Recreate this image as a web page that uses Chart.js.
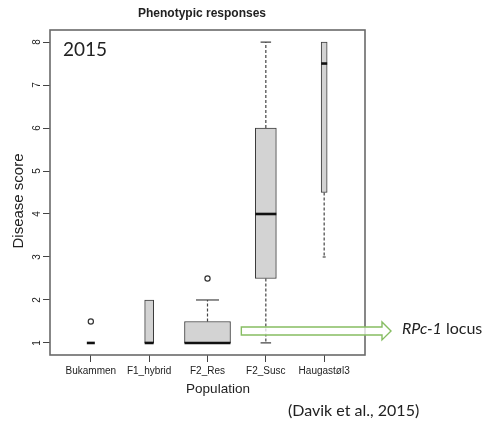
<!DOCTYPE html>
<html>
<head>
<meta charset="utf-8">
<script src="https://cdn.jsdelivr.net/npm/chart.js@4.4.1/dist/chart.umd.min.js"></script>
<style>
  html,body{margin:0;padding:0;background:#fff}
  #wrap{width:485px;height:426px}
</style>
</head>
<body>
<div id="wrap"><canvas id="myChart" width="485" height="426"></canvas></div>
<script>
// boxplot values
const populations = ['Bukammen','F1_hybrid','F2_Res','F2_Susc','Haugastøl3'];
const whiskerLow  = [1, 1, 1,   1,   3];
const q1          = [1, 1, 1,   2.5, 4.5];
const median      = [1, 1, 1,   4,   7.5];
const q3          = [1, 2, 1.5, 6,   8];
const whiskerHigh = [1, 2, 2,   8,   8];
const outlierPop   = [1, 3];
const outlierScore = [1.5, 2.5];
const yTicks = [1,2,3,4,5,6,7,8];

// box widths in px (varwidth look)
const boxPx = [8, 9, 46, 21, 6];

const datasets = [];
for(let i=0;i<populations.length;i++){
  datasets.push({
    type: 'bar',
    label: populations[i],
    data: [{x: i+1, y: [q1[i], q3[i]]}],
    backgroundColor: '#d3d3d3',
    borderColor: '#3c3c3c',
    borderWidth: 1,
    borderSkipped: false,
    barThickness: boxPx[i],
    grouped: false
  });
}
datasets.push({
  type: 'scatter',
  label: 'outliers',
  data: outlierPop.map((p,i)=>({x: p, y: outlierScore[i]})),
  pointRadius: 2.6,
  pointBorderWidth: 1.2,
  borderColor: '#333',
  backgroundColor: '#fff'
});

const boxDecor = {
  id: 'boxDecor',
  beforeDatasetsDraw(chart){
    const ctx = chart.ctx, xs = chart.scales.x, ys = chart.scales.y;
    ctx.save();
    ctx.strokeStyle = '#444';
    ctx.lineWidth = 1.2;
    for(let i=0;i<populations.length;i++){
      const cx = xs.getPixelForValue(i+1);
      const half = boxPx[i]/4;
      ctx.setLineDash([3,2]);
      ctx.beginPath();
      ctx.moveTo(cx, ys.getPixelForValue(q3[i]));
      ctx.lineTo(cx, ys.getPixelForValue(whiskerHigh[i]));
      ctx.moveTo(cx, ys.getPixelForValue(q1[i]));
      ctx.lineTo(cx, ys.getPixelForValue(whiskerLow[i]));
      ctx.stroke();
      ctx.setLineDash([]);
      ctx.beginPath();
      if(whiskerHigh[i] > q3[i]){
        ctx.moveTo(cx-half, ys.getPixelForValue(whiskerHigh[i]));
        ctx.lineTo(cx+half, ys.getPixelForValue(whiskerHigh[i]));
      }
      if(whiskerLow[i] < q1[i]){
        ctx.moveTo(cx-half, ys.getPixelForValue(whiskerLow[i]));
        ctx.lineTo(cx+half, ys.getPixelForValue(whiskerLow[i]));
      }
      ctx.stroke();
    }
    ctx.restore();
  },
  afterDatasetsDraw(chart){
    const ctx = chart.ctx, xs = chart.scales.x, ys = chart.scales.y;
    const a = chart.chartArea;
    ctx.save();
    // medians
    ctx.strokeStyle = '#111';
    ctx.lineWidth = 2.6;
    for(let i=0;i<populations.length;i++){
      const cx = xs.getPixelForValue(i+1);
      const my = ys.getPixelForValue(median[i]);
      ctx.beginPath();
      ctx.moveTo(cx-boxPx[i]/2, my);
      ctx.lineTo(cx+boxPx[i]/2, my);
      ctx.stroke();
    }
    // frame
    ctx.strokeStyle = '#6a6a6a';
    ctx.lineWidth = 1.6;
    ctx.strokeRect(a.left, a.top, a.right-a.left, a.bottom-a.top);

    // y tick labels, rotated like R
    ctx.fillStyle = '#222';
    ctx.font = '10px "Liberation Sans", Arial, sans-serif';
    ctx.textAlign = 'center';
    ctx.textBaseline = 'middle';
    for(const v of yTicks){
      ctx.save();
      ctx.translate(a.left-13, ys.getPixelForValue(v));
      ctx.rotate(-Math.PI/2);
      ctx.fillText(String(v), 0, 0);
      ctx.restore();
    }
    // axis titles
    ctx.save();
    ctx.font = '15px "Liberation Sans", Arial, sans-serif';
    ctx.translate(19, 201);
    ctx.rotate(-Math.PI/2);
    ctx.fillText('Disease score', 0, 0);
    ctx.restore();
    ctx.font = '13.5px "Liberation Sans", Arial, sans-serif';
    ctx.fillText('Population', 218, 389);
    ctx.font = 'bold 12px "Liberation Sans", Arial, sans-serif';
    ctx.fillText('Phenotypic responses', 202, 14);

    // year label
    ctx.textAlign = 'left';
    ctx.font = '19px Lato, sans-serif';
    ctx.fillText('2015', a.left+13, 50);

    // arrow to the locus note
    const ay = ys.getPixelForValue(1.28);
    const x0 = xs.getPixelForValue(3.58);
    const x1 = a.right + 17, x2 = a.right + 26;
    ctx.beginPath();
    ctx.moveTo(x0, ay-4);
    ctx.lineTo(x1, ay-4);
    ctx.lineTo(x1, ay-9);
    ctx.lineTo(x2, ay);
    ctx.lineTo(x1, ay+9);
    ctx.lineTo(x1, ay+4);
    ctx.lineTo(x0, ay+4);
    ctx.closePath();
    ctx.fillStyle = 'rgba(255,255,255,0.75)';
    ctx.fill();
    ctx.strokeStyle = '#86bd62';
    ctx.lineWidth = 1.4;
    ctx.stroke();

    ctx.fillStyle = '#222';
    ctx.font = 'italic 16px Lato, sans-serif';
    ctx.fillText('RPc-1', 402, 329);
    const w = ctx.measureText('RPc-1').width;
    ctx.font = '16px Lato, sans-serif';
    ctx.fillText(' locus', 402+w, 329);

    ctx.font = '16px Lato, sans-serif';
    ctx.fillText('(Davik et al., 2015)', 288, 411);
    ctx.restore();
  }
};

const ch = document.getElementById('myChart');
new Chart(ch, {
  data: { datasets: datasets },
  options: {
    responsive: false,
    devicePixelRatio: 1,
    animation: false,
    layout: { padding: { top: 30, right: 120, bottom: 41, left: 0 } },
    plugins: { legend: { display: false }, tooltip: { enabled: false } },
    scales: {
      x: {
        type: 'linear',
        offset: false,
        min: 0.3, max: 5.7,
        afterBuildTicks: s => { s.ticks = populations.map((p,i)=>({value: i+1})); },
        afterFit: s => { s.height = 30; },
        ticks: {
          callback: v => populations[v-1] || '',
          font: { family: '"Liberation Sans", Arial, sans-serif', size: 10 },
          color: '#222',
          padding: 3,
          maxRotation: 0, minRotation: 0,
          autoSkip: false
        },
        grid: { offset: false, drawOnChartArea: false, drawTicks: true, tickLength: 7, tickColor: '#444', tickWidth: 1 },
        border: { display: false }
      },
      y: {
        type: 'linear',
        min: 0.72, max: 8.28,
        afterBuildTicks: s => { s.ticks = yTicks.map(v=>({value: v})); },
        afterFit: s => { s.width = 50; },
        ticks: { display: false },
        grid: { drawOnChartArea: false, drawTicks: true, tickLength: 7, tickColor: '#444', tickWidth: 1 },
        border: { display: false }
      }
    }
  },
  plugins: [boxDecor]
});
</script>
</body>
</html>
